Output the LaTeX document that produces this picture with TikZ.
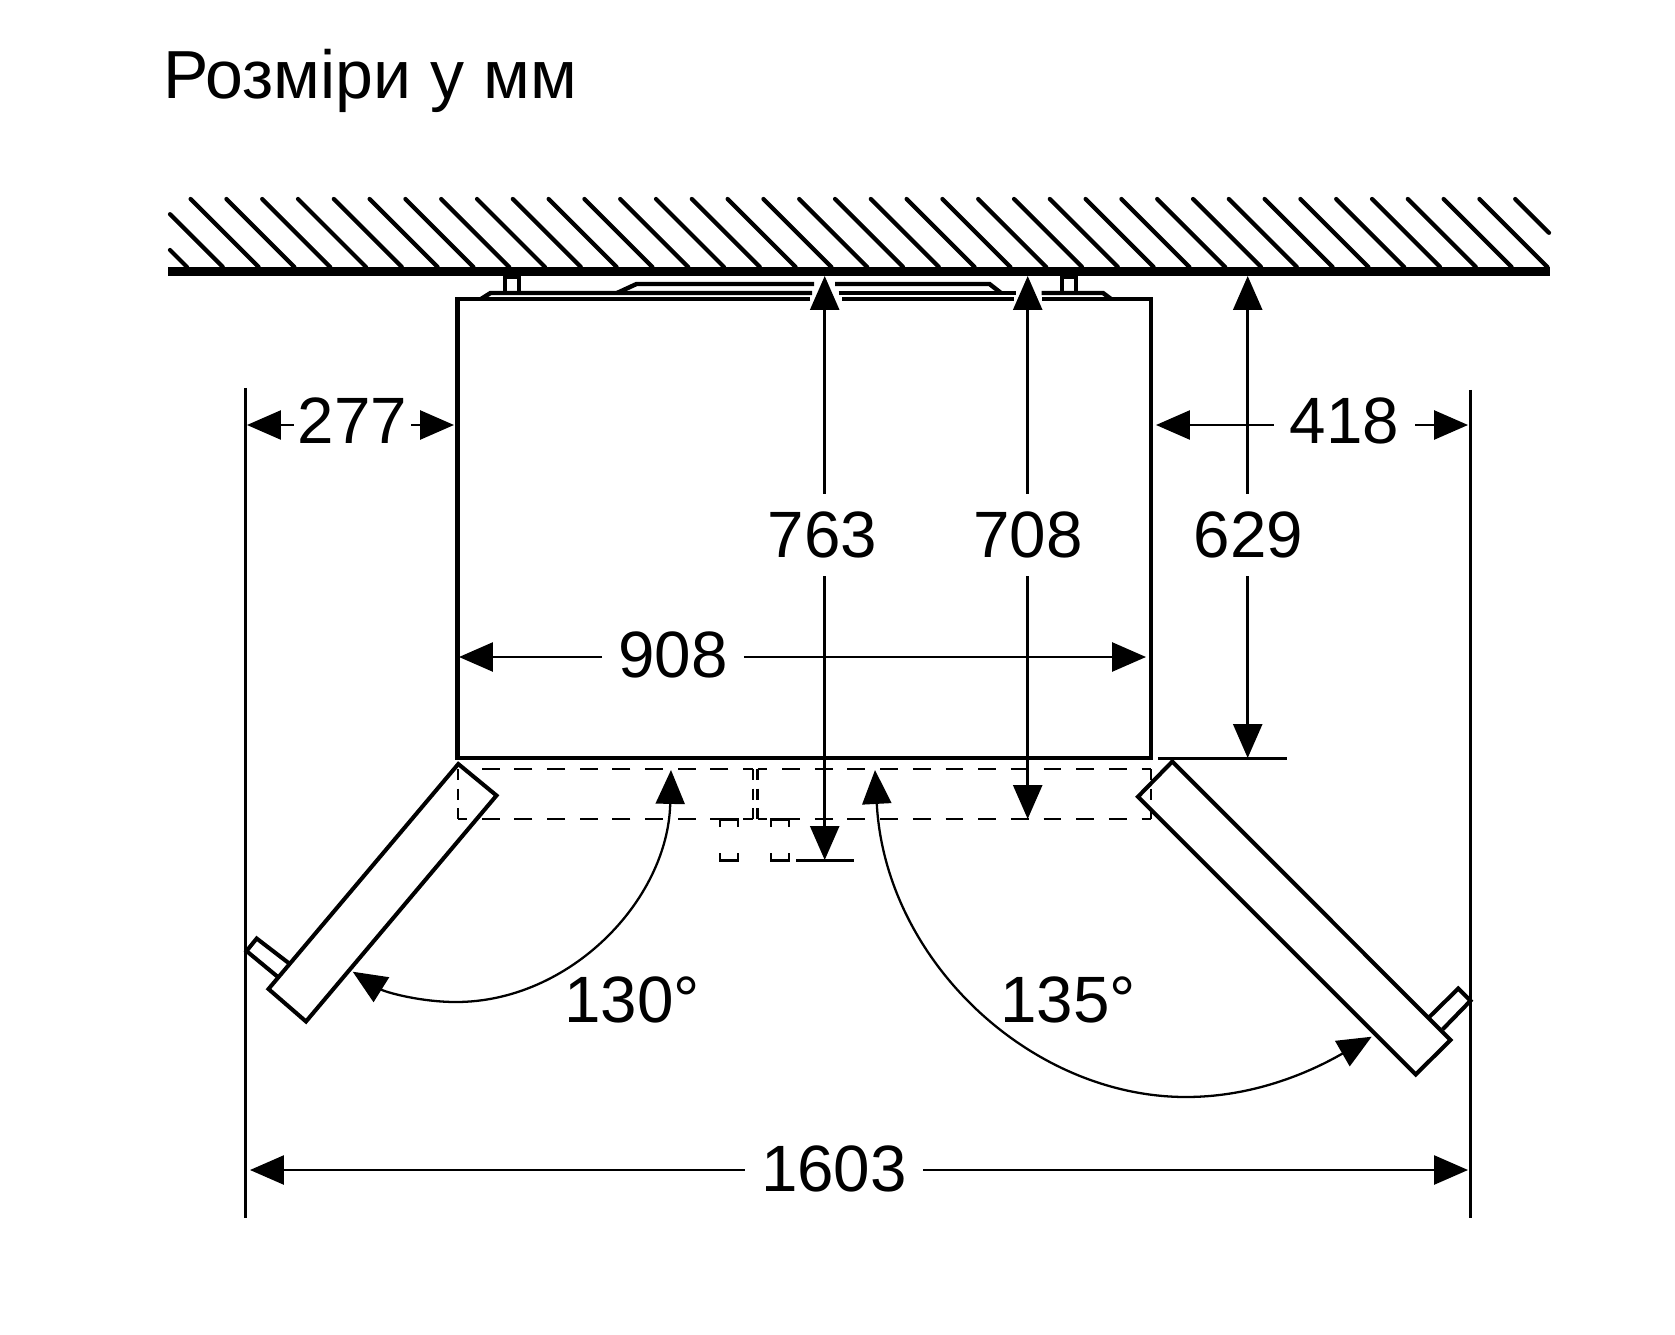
\documentclass[tikz,border=0pt]{standalone}
\usepackage{fontspec}
\setmainfont{Liberation Sans}
\usetikzlibrary{arrows.meta}
\tikzset{
    bodyline/.style={line width=2.5pt, line join=miter},
    doorline/.style={line width=2.3pt},
    thinline/.style={line width=1.4pt},
    hiddenh/.style={line width=1.3pt, dash pattern=on 10.2pt off 8.4pt, dash phase=4.6pt},
    hiddenv/.style={line width=1.3pt, dash pattern=on 6.3pt off 4.8pt},
    dimline/.style={line width=1.4pt, -{Triangle[length=19.3pt,width=16.5pt]}},
    dimboth/.style={line width=1.3pt, {Triangle[length=19.3pt,width=16.5pt]}-{Triangle[length=19.3pt,width=16.5pt]}},
    dimtext/.style={font=\fontsize{37.3}{37.3}\selectfont, inner xsep=9pt, inner ysep=10pt}
}

\begin{document}
\begin{tikzpicture}[x=0.02cm, y=-0.02cm]
    \useasboundingbox (0,0) rectangle (1675,1334);

    \node[font=\fontsize{38.7}{38.7}\selectfont, anchor=base west, inner sep=0pt] (title) at (163,99) {Розміри у мм};

    % wall
    \foreach \i in {0,...,39} {
        \pgfmathsetmacro{\xb}{187+35.8*\i}
        \pgfmathsetmacro{\xs}{max(\xb-68,170)}
        \pgfmathsetmacro{\xe}{min(\xb,1549)}
        \draw[line width=2.4pt, line cap=round] (\xs,{267-(\xb-\xs)}) -- (\xe,{267-(\xb-\xe)});
    }
    \draw[line width=4.9pt] (168,271.5) -- (1550,271.5);

    % cabinet
    \draw[bodyline] (810,299) -- (457.5,299) -- (457.5,758) -- (1151,758) -- (1151,299) -- (1042,299);
    \draw[bodyline] (842,299) -- (1014,299);
    \draw[bodyline] (481,299) -- (490.5,293) -- (812,293);
    \draw[bodyline] (838.5,293) -- (1016,293);
    \draw[bodyline] (1041.5,293) -- (1103,293) -- (1111,299);
    \draw[bodyline] (617,293) -- (636.5,284) -- (814,284);
    \draw[bodyline] (835,284) -- (989.5,284) -- (1001,293);
    \draw[line width=1.8pt] (505,293) -- (505,277) -- (519,277) -- (519,293);
    \draw[line width=1.8pt] (1062,293) -- (1062,277) -- (1076,277) -- (1076,293);

    % closed door outlines
    \draw[hiddenh] (753,769) -- (480,769);
    \draw[hiddenh] (753,819.3) -- (458,819.3);
    \draw[hiddenv] (458,769) -- (458,819.3);
    \draw[hiddenv] (753,769) -- (753,819.3);
    \draw[hiddenh] (757.5,769) -- (1151,769);
    \draw[hiddenh] (757.5,819.3) -- (1151,819.3);
    \draw[hiddenv] (757.5,769) -- (757.5,819.3);
    \draw[hiddenv] (1151,769) -- (1151,819.3);
    \foreach \xl/\xr in {720/738, 771/789} {
        \draw[thinline] (\xl,827) -- (\xl,819.3) -- (\xr,819.3) -- (\xr,827);
        \draw[thinline] (\xl,853) -- (\xl,860.5) -- (\xr,860.5) -- (\xr,853);
    }

    % open doors
    \draw[doorline] (458.3,764) -- (496.5,795.5) -- (306,1021.5) -- (268.5,989) -- cycle;
    \draw[doorline] (289,963.3) -- (256.7,938.5) -- (246.5,951) -- (278.3,977.3);
    \draw[doorline] (1172.3,761.5) -- (1450.5,1040) -- (1415.7,1074.5) -- (1138,796.7) -- cycle;
    \draw[doorline] (1429,1017.3) -- (1458.3,988.5) -- (1470.5,1000.7) -- (1442.7,1029.3);

    % extension lines
    \coordinate (extla) at (245.7,388);
    \coordinate (extlb) at (245.7,1218);
    \coordinate (extra) at (1470.5,390);
    \coordinate (extrb) at (1470.5,1218);
    \draw[thinline] (extla) -- (extlb);
    \draw[thinline] (extra) -- (extrb);
    \draw[thinline] (1158,758.7) -- (1287,758.7);
    \draw[thinline] (796,860.5) -- (854,860.5);

    % dimensions
    \node[dimtext] (n763) at (822.5,535) {763};
    \node[dimtext] (n708) at (1028,535) {708};
    \node[dimtext] (n629) at (1248.5,535) {629};
    \node[dimtext, inner xsep=2pt] (n277) at (352.5,421) {277};
    \node[dimtext] (n418) at (1344.5,421) {418};
    \node[dimtext] (n908) at (673,655) {908};
    \node[dimtext] (n1603) at (834,1169) {1603};
    \node[dimtext, inner sep=0pt] (n130) at (632,1000) {130°};
    \node[dimtext, inner sep=0pt] (n135) at (1068,1000) {135°};

    \draw[dimline] (824.7,0 |- n763.north) -- (824.7,276);
    \draw[dimline] (1027.7,0 |- n708.north) -- (1027.7,276);
    \draw[dimline] (1247.7,0 |- n629.north) -- (1247.7,276);
    \draw[dimline] (824.7,0 |- n763.south) -- (824.7,860);
    \draw[dimline] (1027.7,0 |- n708.south) -- (1027.7,819);
    \draw[dimline] (1247.7,0 |- n629.south) -- (1247.7,758);

    \draw[dimline] (n277.west |- 0,425) -- (247,425);
    \draw[dimline] (n277.east |- 0,425) -- (454,425);
    \draw[dimline] (n418.west |- 0,425) -- (1156,425);
    \draw[dimline] (n418.east |- 0,425) -- (1468,425);
    \draw[dimline] (n908.west |- 0,657) -- (459,657);
    \draw[dimline] (n908.east |- 0,657) -- (1146,657);
    \draw[dimline] (n1603.west |- 0,1170) -- (250,1170);
    \draw[dimline] (n1603.east |- 0,1170) -- (1468,1170);

    % angles
    \draw[dimboth] (352.7,971.7) .. controls (385,992) and (420,1002) .. (456,1002)
        .. controls (570,1002) and (668,900) .. (671,770);
    \draw[dimboth] (875,770) .. controls (885,960) and (1030,1097) .. (1186,1097)
        .. controls (1245,1097) and (1300,1078) .. (1371.7,1036.7);
\end{tikzpicture}
\end{document}
